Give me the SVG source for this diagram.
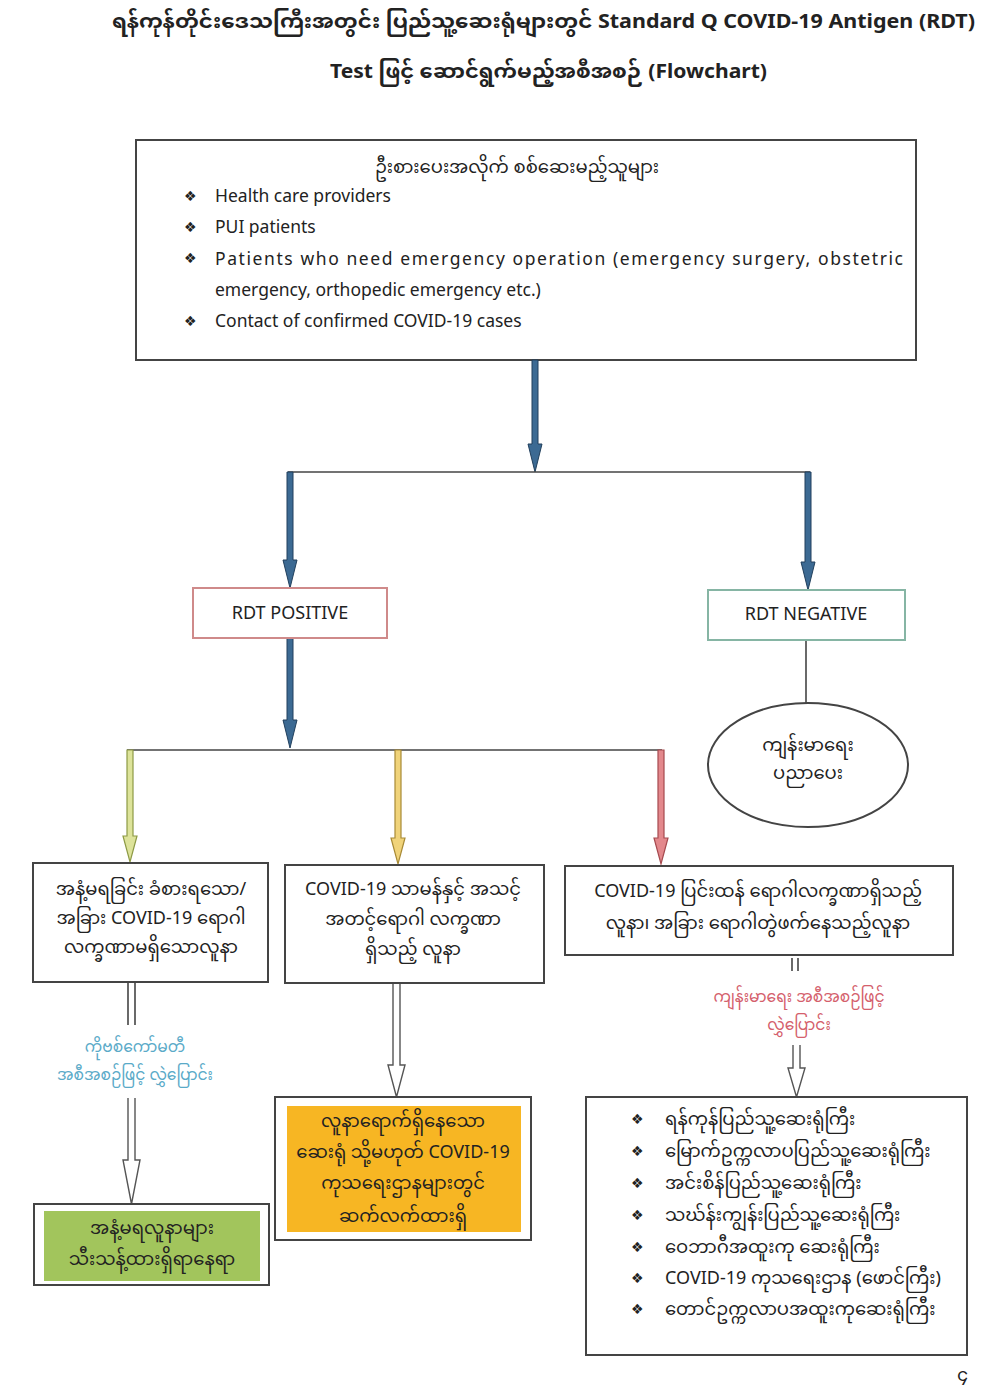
<svg xmlns="http://www.w3.org/2000/svg" width="1005" height="1385" viewBox="0 0 1005 1385">
<style>
text{font-family:"Noto Sans","Noto Sans Myanmar","Padauk","DejaVu Sans",sans-serif;fill:#222;font-size:18px}
.t{font-size:20px;font-weight:bold}
.c{text-anchor:middle}
.en{font-size:17.5px}
.box{fill:#fff;stroke:#444;stroke-width:2}
.blue{fill:#3c6a93;stroke:#213f5c;stroke-width:1}
.ln{stroke:#444;stroke-width:1.6;fill:none}
.hol{fill:#fff;stroke:#555;stroke-width:1.4}
.bul{font-family:"DejaVu Sans",sans-serif;font-size:14px}
.lb{font-size:15.5px;text-anchor:middle}
</style>
<rect width="1005" height="1385" fill="#fff"/>
<g id="title">
<text class="t" x="112" y="28" textLength="863" lengthAdjust="spacingAndGlyphs">ရန်ကုန်တိုင်းဒေသကြီးအတွင်း ပြည်သူ့ဆေးရုံများတွင် Standard Q COVID-19 Antigen (RDT)</text>
<text class="t" x="330" y="78" textLength="437" lengthAdjust="spacingAndGlyphs">Test ဖြင့် ဆောင်ရွက်မည့်အစီအစဉ် (Flowchart)</text>
</g>
<g id="top-box">
<rect class="box" x="136" y="140" width="780" height="220"/>
<text class="c" x="517" y="173" font-size="20">ဦးစားပေးအလိုက် စစ်ဆေးမည့်သူများ</text>
<text class="bul" x="184" y="201">❖</text>
<text class="en" x="215" y="202">Health care providers</text>
<text class="bul" x="184" y="232">❖</text>
<text class="en" x="215" y="233">PUI patients</text>
<text class="bul" x="184" y="263">❖</text>
<text class="en" x="215" y="265" textLength="688" lengthAdjust="spacing">Patients who need emergency operation (emergency surgery, obstetric</text>
<text class="en" x="215" y="296">emergency, orthopedic emergency etc.)</text>
<text class="bul" x="184" y="326">❖</text>
<text class="en" x="215" y="327">Contact of confirmed COVID-19 cases</text>
</g>
<g id="connectors">
<polygon class="blue" points="532,360 538,360 538,444 542,444 535,472 528,444 532,444"/>
<line class="ln" x1="288" y1="472" x2="810" y2="472"/>
<polygon class="blue" points="287,472 293,472 293,560 297,560 290,588 283,560 287,560"/>
<polygon class="blue" points="805,472 811,472 811,562 815,562 808,590 801,562 805,562"/>
<polygon class="blue" points="287,638 293,638 293,720 297,720 290,748 283,720 287,720"/>
<line class="ln" x1="127" y1="750" x2="662" y2="750"/>
<polygon fill="#dde39a" stroke="#8d9a45" stroke-width="1.2" points="127,750 133,750 133,836 137,836 130,862 123,836 127,836"/>
<polygon fill="#f0d37a" stroke="#a88a35" stroke-width="1.2" points="395,750 401,750 401,838 405,838 398,864 391,838 395,838"/>
<polygon fill="#e3888c" stroke="#a64a4f" stroke-width="1.2" points="658,750 664,750 664,838 668,838 661,864 654,838 658,838"/>
<line class="ln" x1="806" y1="640" x2="806" y2="703"/>
<line class="ln" x1="128" y1="983" x2="128" y2="1025"/>
<line class="ln" x1="135" y1="983" x2="135" y2="1025"/>
<polyline class="hol" points="128,1098 128,1160 123,1160 131.5,1204 140,1160 135,1160 135,1098"/>
<polyline class="hol" points="393,983 393,1065 388,1065 396.5,1097 405,1065 400,1065 400,983"/>
<line class="ln" x1="792" y1="958" x2="792" y2="971"/>
<line class="ln" x1="798" y1="958" x2="798" y2="971"/>
<polyline class="hol" points="793,1045 793,1068 788,1068 796.5,1097 805,1068 800,1068 800,1045"/>
</g>
<g id="rdt-positive">
<rect x="193" y="588" width="194" height="50" fill="#fff" stroke="#cf8a8a" stroke-width="2"/>
<text class="c" x="290" y="619" font-size="17">RDT POSITIVE</text>
</g>
<g id="rdt-negative">
<rect x="708" y="590" width="197" height="50" fill="#fff" stroke="#86b5a4" stroke-width="2"/>
<text class="c" x="806" y="620" font-size="17">RDT NEGATIVE</text>
</g>
<g id="health-education">
<ellipse cx="808" cy="765" rx="100" ry="62" fill="#fff" stroke="#444" stroke-width="2"/>
<text class="c" x="808" y="751">ကျန်းမာရေး</text>
<text class="c" x="808" y="779">ပညာပေး</text>
</g>
<g id="box-anosmia">
<rect class="box" x="33" y="863" width="235" height="119"/>
<text class="c" x="151" y="895">အနံ့မရခြင်း ခံစားရသော/</text>
<text class="c" x="151" y="924">အခြား COVID-19 ရောဂါ</text>
<text class="c" x="151" y="953">လက္ခဏာမရှိသောလူနာ</text>
</g>
<g id="box-mild">
<rect class="box" x="285" y="865" width="259" height="118"/>
<text class="c" x="413" y="895">COVID-19 သာမန်နှင့် အသင့်</text>
<text class="c" x="413" y="925">အတင့်ရောဂါ လက္ခဏာ</text>
<text class="c" x="413" y="955">ရှိသည့် လူနာ</text>
</g>
<g id="box-severe">
<rect class="box" x="565" y="866" width="388" height="89"/>
<text class="c" x="758" y="897">COVID-19 ပြင်းထန် ရောဂါလက္ခဏာရှိသည့်</text>
<text class="c" x="758" y="929">လူနာ၊ အခြား ရောဂါတွဲဖက်နေသည့်လူနာ</text>
</g>
<g id="label-committee">
<text class="lb" x="135" y="1052" style="fill:#5aaac8">ကိုဗစ်ကော်မတီ</text>
<text class="lb" x="135" y="1080" style="fill:#5aaac8">အစီအစဉ်ဖြင့် လွှဲပြောင်း</text>
</g>
<g id="label-health">
<text class="lb" x="799" y="1002" style="fill:#d4606c">ကျန်းမာရေး အစီအစဉ်ဖြင့်</text>
<text class="lb" x="799" y="1030" style="fill:#d4606c">လွှဲပြောင်း</text>
</g>
<g id="box-isolation">
<rect class="box" x="34" y="1204" width="235" height="81"/>
<rect x="44" y="1211" width="216" height="70" fill="#a2c55c"/>
<text class="c" x="152" y="1234">အနံ့မရလူနာများ</text>
<text class="c" x="152" y="1265">သီးသန့်ထားရှိရာနေရာ</text>
</g>
<g id="box-continue">
<rect class="box" x="275" y="1097" width="256" height="143"/>
<rect x="287" y="1106" width="234" height="126" fill="#f7b623"/>
<text class="c" x="403" y="1127">လူနာရောက်ရှိနေသော</text>
<text class="c" x="403" y="1158">ဆေးရုံ သို့မဟုတ် COVID-19</text>
<text class="c" x="403" y="1189">ကုသရေးဌာနများတွင်</text>
<text class="c" x="403" y="1222">ဆက်လက်ထားရှိ</text>
</g>
<g id="box-hospitals">
<rect class="box" x="586" y="1097" width="381" height="258"/>
<text class="bul" x="631" y="1124">❖</text><text x="665" y="1125">ရန်ကုန်ပြည်သူ့ဆေးရုံကြီး</text>
<text class="bul" x="631" y="1156">❖</text><text x="665" y="1157">မြောက်ဥက္ကလာပပြည်သူ့ဆေးရုံကြီး</text>
<text class="bul" x="631" y="1188">❖</text><text x="665" y="1189">အင်းစိန်ပြည်သူ့ဆေးရုံကြီး</text>
<text class="bul" x="631" y="1220">❖</text><text x="665" y="1221">သဃ်န်းကျွန်းပြည်သူ့ဆေးရုံကြီး</text>
<text class="bul" x="631" y="1252">❖</text><text x="665" y="1253">ဝေဘာဂီအထူးကု ဆေးရုံကြီး</text>
<text class="bul" x="631" y="1283">❖</text><text x="665" y="1284">COVID-19 ကုသရေးဌာန (ဖောင်ကြီး)</text>
<text class="bul" x="631" y="1314">❖</text><text x="665" y="1315">တောင်ဥက္ကလာပအထူးကုဆေးရုံကြီး</text>
</g>
<text x="957" y="1381" font-size="14">၄</text>
</svg>
